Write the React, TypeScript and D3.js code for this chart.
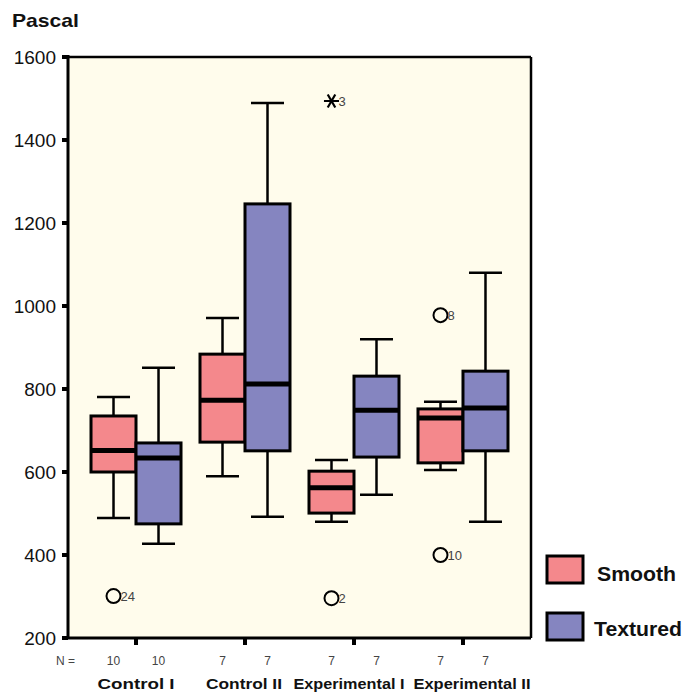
import React from 'react';
import * as d3 from 'd3';

const groups = ['Control I', 'Control II', 'Experimental I', 'Experimental II'];
const series = ['Smooth', 'Textured'];
const colors = ['#f4888c', '#8585c0'];

// [whiskerLow, q1, median, q3, whiskerHigh]
const smoothStats = [
  [489, 600, 652, 735, 781],
  [590, 672, 773, 884, 971],
  [480, 501, 562, 602, 629],
  [605, 622, 730, 752, 769],
];
const texturedStats = [
  [427, 475, 634, 670, 851],
  [492, 651, 812, 1246, 1489],
  [545, 636, 749, 831, 920],
  [480, 651, 754, 843, 1080],
];
const counts = [[10, 10], [7, 7], [7, 7], [7, 7]];

// outliers: group index, series index, value, label, kind
const outliers = [
  { g: 0, s: 0, value: 301, label: '24', kind: 'circle' },
  { g: 2, s: 0, value: 1494, label: '3', kind: 'star' },
  { g: 2, s: 0, value: 296, label: '2', kind: 'circle' },
  { g: 3, s: 0, value: 978, label: '8', kind: 'circle' },
  { g: 3, s: 0, value: 400, label: '10', kind: 'circle' },
];

const yTicks = [200, 400, 600, 800, 1000, 1200, 1400, 1600];
// label placement tweaks so the long names do not collide
const labelShift = [0, -1, -5, 9];
const labelWidth = [77, 76, 111, 117];
const legendWidth = [79, 88];

const App = () => {
  const width = 682;
  const height = 693;
  const left = 68, right = 531, top = 57, bottom = 638;
  const font = '"Liberation Sans", Arial, sans-serif';

  const y = d3.scaleLinear().domain([200, 1600]).range([bottom, top]);
  const x = d3.scalePoint<string>().domain(groups).range([left, right]).padding(0.624);
  const boxW = 45;
  const capW = 33;

  const boxX = (gi: number, si: number) => (x(groups[gi]) as number) + (si === 0 ? -boxW : 0);
  const allStats = [smoothStats, texturedStats];

  return (
    <svg width={width} height={height} style={{ position: 'absolute', left: 0, top: 0 }}>
      <rect x={left} y={top} width={right - left} height={bottom - top} fill="#fffcec" />
      <text x={12} y={27} fontFamily={font} fontWeight="bold" fontSize={19} fill="#111"
        textLength={67} lengthAdjust="spacingAndGlyphs">Pascal</text>

      {/* frame */}
      <line x1={left} x2={right} y1={top} y2={top} stroke="#000" strokeWidth={2.5} />
      <line x1={right} x2={right} y1={top} y2={bottom} stroke="#000" strokeWidth={2.5} />
      <line x1={left} x2={left} y1={top - 2} y2={bottom + 1} stroke="#000" strokeWidth={3} />
      <line x1={left} x2={right} y1={bottom} y2={bottom} stroke="#000" strokeWidth={3} />

      {yTicks.map(t => (
        <g key={t}>
          <rect x={left - 6} y={y(t) - 2} width={6} height={4} fill="#000" />
          <text x={56} y={y(t) + 7} textAnchor="end" fontFamily={font} fontSize={19} fill="#111">{t}</text>
        </g>
      ))}

      {groups.map((g, gi) => (
        <g key={g}>
          <rect x={(x(g) as number) - 2} y={bottom} width={4} height={7} fill="#000" />
          <text x={(x(g) as number) + labelShift[gi] - labelWidth[gi] / 2} y={689} fontFamily={font}
            fontWeight="bold" fontSize={15} fill="#111" textLength={labelWidth[gi]}
            lengthAdjust="spacingAndGlyphs">{g}</text>
          {counts[gi].map((n, si) => (
            <text key={si} x={boxX(gi, si) + boxW / 2} y={665} textAnchor="middle" fontFamily={font}
              fontSize={12} fill="#444">{n}</text>
          ))}
        </g>
      ))}
      <text x={56} y={665} fontFamily={font} fontSize={12} fill="#444">N =</text>

      {allStats.map((stats, si) =>
        stats.map((st, gi) => {
          const bx = boxX(gi, si);
          const cx = bx + boxW / 2;
          const [lo, q1, med, q3, hi] = st;
          return (
            <g key={`${si}-${gi}`}>
              <line x1={cx} x2={cx} y1={y(hi)} y2={y(q3)} stroke="#000" strokeWidth={2.5} />
              <line x1={cx} x2={cx} y1={y(q1)} y2={y(lo)} stroke="#000" strokeWidth={2.5} />
              <line x1={cx - capW / 2} x2={cx + capW / 2} y1={y(hi)} y2={y(hi)} stroke="#000" strokeWidth={2.5} />
              <line x1={cx - capW / 2} x2={cx + capW / 2} y1={y(lo)} y2={y(lo)} stroke="#000" strokeWidth={2.5} />
              <rect x={bx} y={y(q3)} width={boxW} height={y(q1) - y(q3)} fill={colors[si]} stroke="#000" strokeWidth={3} />
              <line x1={bx} x2={bx + boxW} y1={y(med)} y2={y(med)} stroke="#000" strokeWidth={5} />
            </g>
          );
        })
      )}

      {outliers.map((o, i) => {
        const cx = boxX(o.g, o.s) + boxW / 2;
        const cy = y(o.value);
        return (
          <g key={i}>
            {o.kind === 'circle' ? (
              <circle cx={cx} cy={cy} r={7} fill="none" stroke="#000" strokeWidth={2} />
            ) : (
              <path d={d3.symbol(d3.symbolAsterisk, 160)() as string} transform={`translate(${cx},${cy}) rotate(90)`}
                fill="none" stroke="#000" strokeWidth={2.2} />
            )}
            <text x={cx + 7} y={cy + 5} fontFamily={font} fontSize={13} fill="#444">{o.label}</text>
          </g>
        );
      })}

      {series.map((s, si) => (
        <g key={s}>
          <rect x={547} y={556 + si * 57} width={36} height={27} fill={colors[si]} stroke="#000" strokeWidth={3} />
          <text x={si === 0 ? 597 : 594} y={581 + si * 55} fontFamily={font} fontWeight="bold" fontSize={20} fill="#111"
            textLength={legendWidth[si]} lengthAdjust="spacingAndGlyphs">{s}</text>
        </g>
      ))}
    </svg>
  );
};

export default App;
